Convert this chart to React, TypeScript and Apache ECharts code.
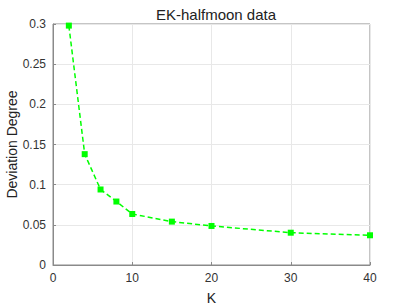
import React, { useEffect, useRef } from "react";
import * as echarts from "echarts";

const kValues = [2, 4, 6, 8, 10, 15, 20, 30, 40];
const deviation = [0.298, 0.138, 0.094, 0.079, 0.0635, 0.054, 0.0486, 0.0402, 0.037];
const titleText = "EK-halfmoon data";
const xName = "K";
const yName = "Deviation Degree";

export default function App() {
  const ref = useRef<HTMLDivElement>(null);
  useEffect(() => {
    if (!ref.current) return;
    const chart = echarts.init(ref.current, null, { renderer: "svg" });
    const font = "'Liberation Sans', Arial, Helvetica, sans-serif";
    const axisColor = "#8a8a8a";
    chart.setOption({
      animation: false,
      backgroundColor: "#ffffff",
      title: {
        text: titleText,
        left: 211,
        top: 2,
        textAlign: "center",
        textStyle: { fontFamily: font, fontSize: 15, fontWeight: "normal", color: "#222" },
      },
      grid: {
        left: 53,
        right: 39,
        top: 24,
        bottom: 42,
        show: true,
        borderColor: axisColor,
        borderWidth: 1,
        outerBoundsMode: "none",
        containLabel: false,
      },
      xAxis: {
        type: "value",
        min: 0,
        max: 40,
        interval: 10,
        name: xName,
        nameLocation: "middle",
        nameGap: 26,
        nameMoveOverlap: false,
        nameTextStyle: { fontFamily: font, fontSize: 14, color: "#222" },
        axisLine: { show: true, lineStyle: { color: axisColor } },
        axisTick: { show: true, inside: true, length: 3, lineStyle: { color: axisColor } },
        axisLabel: { fontFamily: font, fontSize: 12, color: "#333", margin: 7 },
        splitLine: { show: true, lineStyle: { color: "#e8e8e8" } },
      },
      yAxis: {
        type: "value",
        min: 0,
        max: 0.3,
        interval: 0.05,
        name: yName,
        nameLocation: "middle",
        nameGap: 34,
        nameMoveOverlap: false,
        nameTextStyle: { fontFamily: font, fontSize: 14, color: "#222" },
        axisLine: { show: true, lineStyle: { color: axisColor } },
        axisTick: { show: true, inside: true, length: 3, lineStyle: { color: axisColor } },
        axisLabel: { fontFamily: font, fontSize: 12, color: "#333", margin: 7 },
        splitLine: { show: true, lineStyle: { color: "#e8e8e8" } },
      },
      series: [
        {
          type: "line",
          data: kValues.map((k, i) => [k, deviation[i]]),
          symbol: "rect",
          symbolSize: 6,
          itemStyle: { color: "#00ff00" },
          lineStyle: { color: "#00ff00", width: 1.5, type: [5, 3] },
        },
      ],
    });
    return () => chart.dispose();
  }, []);
  return <div ref={ref} style={{ position: "fixed", left: 0, top: 0, width: 409, height: 307 }} />;
}
